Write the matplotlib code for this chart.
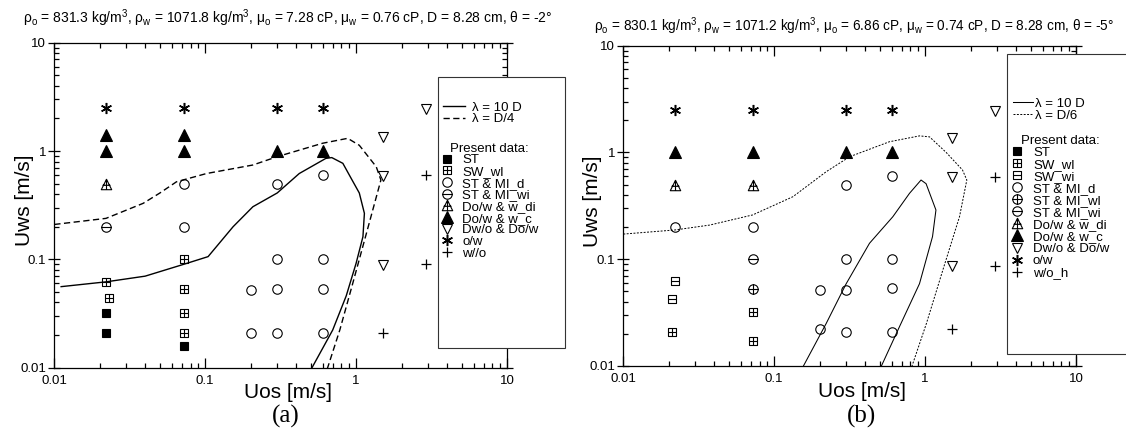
import matplotlib
matplotlib.use('Agg')
import matplotlib.pyplot as plt
from matplotlib.path import Path
from matplotlib.lines import Line2D
from matplotlib.patches import Rectangle
from matplotlib import ticker

plt.rcParams['font.family'] = ['Liberation Sans', 'DejaVu Sans']
plt.rcParams['mathtext.fontset'] = 'custom'
plt.rcParams['mathtext.rm'] = 'Liberation Sans'
plt.rcParams['mathtext.it'] = 'Liberation Sans:italic'

# ---- panel (a) data ----
a_ST_x = [0.022, 0.022, 0.072]
a_ST_y = [0.032, 0.021, 0.016]
a_SWwl_x = [0.022, 0.023, 0.072, 0.072, 0.072, 0.072]
a_SWwl_y = [0.062, 0.044, 0.1, 0.053, 0.032, 0.021]
a_STMId_x = [0.072, 0.3, 0.6, 0.072, 0.3, 0.6, 0.2, 0.3, 0.6, 0.2, 0.3, 0.6]
a_STMId_y = [0.5, 0.5, 0.6, 0.2, 0.1, 0.1, 0.052, 0.053, 0.053, 0.021, 0.021, 0.021]
a_STMIwi_x = [0.022]
a_STMIwi_y = [0.2]
a_Dowwdi_x = [0.022]
a_Dowwdi_y = [0.5]
a_Dowwc_x = [0.022, 0.072, 0.022, 0.072, 0.3, 0.6]
a_Dowwc_y = [1.4, 1.4, 1.0, 1.0, 1.0, 1.0]
a_DwoDow_x = [2.9, 1.5, 1.5, 1.5]
a_DwoDow_y = [2.45, 1.36, 0.59, 0.088]
a_ow_x = [0.022, 0.072, 0.3, 0.6]
a_ow_y = [2.5, 2.5, 2.5, 2.5]
a_wo_x = [2.9, 2.9, 1.5]
a_wo_y = [0.6, 0.09, 0.021]

a_10D_x = [0.0111, 0.022, 0.04, 0.072, 0.1045, 0.153, 0.207, 0.3, 0.42, 0.63, 0.69,
           0.817, 0.927, 1.05, 1.135, 1.11, 1.0, 0.86, 0.70, 0.50]
a_10D_y = [0.056, 0.062, 0.07, 0.09, 0.106, 0.2, 0.306, 0.41, 0.62, 0.855, 0.87,
           0.77, 0.56, 0.41, 0.266, 0.162, 0.092, 0.046, 0.0223, 0.0095]
a_D4_x = [0.01, 0.022, 0.0388, 0.0501, 0.0645, 0.102, 0.207, 0.3, 0.6, 0.88, 1.05,
          1.36, 1.46, 1.22, 0.95, 0.78, 0.64]
a_D4_y = [0.21, 0.239, 0.329, 0.41, 0.52, 0.62, 0.743, 0.887, 1.18, 1.31, 1.13,
          0.716, 0.54, 0.215, 0.06, 0.0223, 0.0095]

# ---- panel (b) data ----
b_SWwl_x = [0.021, 0.072, 0.072]
b_SWwl_y = [0.021, 0.032, 0.017]
b_SWwi_x = [0.022, 0.021]
b_SWwi_y = [0.063, 0.042]
b_STMId_x = [0.022, 0.072, 0.3, 0.6, 0.3, 0.6, 0.2, 0.3, 0.6, 0.2, 0.3, 0.6]
b_STMId_y = [0.2, 0.2, 0.5, 0.6, 0.1, 0.1, 0.052, 0.052, 0.054, 0.022, 0.021, 0.021]
b_STMIwl_x = [0.072]
b_STMIwl_y = [0.053]
b_STMIwi_x = [0.072]
b_STMIwi_y = [0.1]
b_Dowwdi_x = [0.022, 0.072]
b_Dowwdi_y = [0.5, 0.5]
b_Dowwc_x = [0.022, 0.072, 0.3, 0.6]
b_Dowwc_y = [1.0, 1.0, 1.0, 1.0]
b_DwoDow_x = [2.9, 1.5, 1.5, 1.5]
b_DwoDow_y = [2.45, 1.36, 0.59, 0.087]
b_ow_x = [0.022, 0.072, 0.3, 0.6]
b_ow_y = [2.5, 2.5, 2.5, 2.5]
b_woh_x = [2.9, 2.9, 1.5]
b_woh_y = [0.59, 0.087, 0.022]

b_10D_x = [0.155, 0.221, 0.3, 0.428, 0.611, 0.788, 0.94, 1.015, 1.18, 1.12, 0.918, 0.676, 0.51]
b_10D_y = [0.0098, 0.025, 0.059, 0.141, 0.25, 0.414, 0.552, 0.51, 0.289, 0.163, 0.059, 0.0233, 0.0098]
b_D6_x = [0.01, 0.022, 0.0374, 0.072, 0.133, 0.221, 0.316, 0.58, 0.918, 1.07, 1.38,
          1.77, 1.89, 1.69, 1.31, 1.02, 0.815]
b_D6_y = [0.172, 0.188, 0.209, 0.26, 0.385, 0.66, 0.912, 1.26, 1.43, 1.40, 1.0,
          0.685, 0.552, 0.25, 0.079, 0.025, 0.0098]

title_a = (r'ρ$_\mathregular{o}$ = 831.3 kg/m$^\mathregular{3}$, ρ$_\mathregular{w}$ = 1071.8 kg/m$^\mathregular{3}$, '
           r'μ$_\mathregular{o}$ = 7.28 cP, μ$_\mathregular{w}$ = 0.76 cP, D = 8.28 cm, θ = -2°')
title_b = (r'ρ$_\mathregular{o}$ = 830.1 kg/m$^\mathregular{3}$, ρ$_\mathregular{w}$ = 1071.2 kg/m$^\mathregular{3}$, '
           r'μ$_\mathregular{o}$ = 6.86 cP, μ$_\mathregular{w}$ = 0.74 cP, D = 8.28 cm, θ = -5°')

# ---- marker shapes ----
def compound(*parts):
    return Path.make_compound_path(*parts)

sq = Path([(-1, -1), (1, -1), (1, 1), (-1, 1), (-1, -1)],
          [Path.MOVETO, Path.LINETO, Path.LINETO, Path.LINETO, Path.CLOSEPOLY])
tri = Path([(0, 1), (-1, -1), (1, -1), (0, 1)],
           [Path.MOVETO, Path.LINETO, Path.LINETO, Path.CLOSEPOLY])
circ = Path.unit_circle()
hl = Path([(-1, 0), (1, 0)])
vl = Path([(0, -1), (0, 1)])
tri_h = Path([(-0.75, -0.15), (0.75, -0.15)])

m_sq_plus = compound(sq, hl, vl)
m_sq_minus = compound(sq, hl)
m_c_plus = compound(circ, hl, vl)
m_c_minus = compound(circ, hl)
m_tri_plus = compound(tri, vl, tri_h)

open_kw = dict(mfc='none', mec='k', mew=0.8)
STYLE = {
    'ST': dict(marker='s', ms=6, mfc='k', mec='k', mew=0.8),
    'SW_wl': dict(marker=m_sq_plus, ms=6, **open_kw),
    'SW_wi': dict(marker=m_sq_minus, ms=6, **open_kw),
    'ST & MI_d': dict(marker='o', ms=6.8, **open_kw),
    'ST & MI_wl': dict(marker=m_c_plus, ms=6.8, **open_kw),
    'ST & MI_wi': dict(marker=m_c_minus, ms=6.8, **open_kw),
    'Do/w & w_di': dict(marker=m_tri_plus, ms=7.5, **open_kw),
    'Do/w & w_c': dict(marker='^', ms=8.2, mfc='k', mec='k', mew=0.8),
    'Dw/o & Do/w': dict(marker='v', ms=7.5, **open_kw),
    'o/w': dict(marker=(6, 2, 0), ms=8, mec='k', mew=1.1),
    'w//o': dict(marker='+', ms=7, mec='k', mew=0.9),
}
STYLE['w/o_h'] = STYLE['w//o']

series_a = [('ST', a_ST_x, a_ST_y), ('SW_wl', a_SWwl_x, a_SWwl_y),
            ('ST & MI_d', a_STMId_x, a_STMId_y), ('ST & MI_wi', a_STMIwi_x, a_STMIwi_y),
            ('Do/w & w_di', a_Dowwdi_x, a_Dowwdi_y), ('Do/w & w_c', a_Dowwc_x, a_Dowwc_y),
            ('Dw/o & Do/w', a_DwoDow_x, a_DwoDow_y), ('o/w', a_ow_x, a_ow_y),
            ('w//o', a_wo_x, a_wo_y)]
series_b = [('ST', [], []), ('SW_wl', b_SWwl_x, b_SWwl_y), ('SW_wi', b_SWwi_x, b_SWwi_y),
            ('ST & MI_d', b_STMId_x, b_STMId_y), ('ST & MI_wl', b_STMIwl_x, b_STMIwl_y),
            ('ST & MI_wi', b_STMIwi_x, b_STMIwi_y), ('Do/w & w_di', b_Dowwdi_x, b_Dowwdi_y),
            ('Do/w & w_c', b_Dowwc_x, b_Dowwc_y), ('Dw/o & Do/w', b_DwoDow_x, b_DwoDow_y),
            ('o/w', b_ow_x, b_ow_y), ('w/o_h', b_woh_x, b_woh_y)]

W, H = 1126, 436
fig = plt.figure(figsize=(W / 100, H / 100), dpi=100)


def px_box(l, t, r, b):
    return [l / W, 1 - b / H, (r - l) / W, (b - t) / H]


ax_a = fig.add_axes(px_box(54.3, 42.7, 507, 367.7))
ax_b = fig.add_axes(px_box(623.3, 45.7, 1076, 366))


def style_axes(ax):
    ax.set_xscale('log')
    ax.set_yscale('log')
    ax.set_xlim(0.01, 10)
    ax.set_ylim(0.01, 10)
    fmt = ticker.FuncFormatter(lambda v, _: f'{v:g}')
    ax.xaxis.set_major_formatter(fmt)
    ax.yaxis.set_major_formatter(fmt)
    ax.xaxis.set_minor_formatter(ticker.NullFormatter())
    ax.yaxis.set_minor_formatter(ticker.NullFormatter())
    for s in ax.spines.values():
        s.set_linewidth(0.9)
    ax.tick_params(which='both', top=True, right=True, width=0.9, labelsize=9.5)
    ax.tick_params(axis='x', which='major', direction='in', length=7, pad=5)
    ax.tick_params(axis='x', which='minor', direction='in', length=3.5)
    ax.tick_params(axis='y', which='major', direction='inout', length=8, pad=2)
    ax.tick_params(axis='y', which='minor', direction='in', length=3.5)


for ax in (ax_a, ax_b):
    style_axes(ax)

ax_a.plot(a_10D_x, a_10D_y, color='k', lw=1.0, zorder=2)
ax_a.plot(a_D4_x, a_D4_y, color='k', lw=1.0, ls=(0, (4.5, 2.5)), zorder=2)
ax_b.plot(b_10D_x, b_10D_y, color='k', lw=0.75, zorder=2)
ax_b.plot(b_D6_x, b_D6_y, color='k', lw=0.7, ls=(0, (2, 1.5)), zorder=2)

for ax, series in ((ax_a, series_a), (ax_b, series_b)):
    for name, xs, ys in series:
        ax.plot(xs, ys, ls='none', zorder=3, **STYLE[name])
    ax.set_xlabel('Uos [m/s]', fontsize=15)
    ax.set_ylabel('Uws [m/s]', fontsize=15)
    ax.xaxis.label.set_va('center')
    ax.yaxis.label.set_va('center')

ax_a.xaxis.set_label_coords(0.516, -0.075)
ax_a.yaxis.set_label_coords(-0.065, 0.516)
ax_b.xaxis.set_label_coords(0.527, -0.081)
ax_b.yaxis.set_label_coords(-0.067, 0.513)

# titles, fitted to measured width
renderer = fig.canvas.get_renderer()
for s, x0, yc, target in ((title_a, 23, 18, 531), (title_b, 594, 26, 520)):
    t = fig.text(x0 / W, 1 - yc / H, s, fontsize=9, ha='left', va='center')
    w = t.get_window_extent(renderer=renderer).width
    t.set_fontsize(9 * target / w)

fig.text(286 / W, 1 - 416 / H, '(a)', family='Liberation Serif', fontsize=18, ha='center', va='center')
fig.text(862 / W, 1 - 416 / H, '(b)', family='Liberation Serif', fontsize=18, ha='center', va='center')

# legend boxes
for l, t, r, b in ((438, 77, 565, 348), (1007, 54, 1140, 354)):
    fig.patches.append(Rectangle((l / W, 1 - b / H), (r - l) / W, (b - t) / H,
                                 transform=fig.transFigure, facecolor='white',
                                 edgecolor='#333333', lw=0.8, zorder=1))

FS = 9.5


def add_legends(line_labels, line_styles, series, lx, ly, hlen, hpad, mx, my, mpad, spacing):
    lh = [Line2D([], [], color='k', lw=lw, ls=ls, label=lab)
          for lab, (lw, ls) in zip(line_labels, line_styles)]
    fig.legend(handles=lh, loc='upper left', bbox_to_anchor=(lx / W, 1 - ly / H),
               frameon=False, fontsize=FS, handlelength=hlen, handletextpad=hpad,
               labelspacing=spacing, borderpad=0, borderaxespad=0)
    mh = [Line2D([], [], ls='none', label=name, **STYLE[name]) for name, _, _ in series]
    fig.legend(handles=mh, loc='upper left', bbox_to_anchor=(mx / W, 1 - my / H),
               frameon=False, fontsize=FS, title='Present data:', title_fontsize=FS,
               handlelength=1.0, handletextpad=mpad, labelspacing=spacing,
               borderpad=0, borderaxespad=0)


add_legends(['λ = 10 D', 'λ = D/4'], [(1.0, '-'), (1.0, (0, (4.5, 2.5)))], series_a,
            443, 101.5, 1.7, 0.5, 440.4, 142.8, 0.64, -0.045)
add_legends(['λ = 10 D', 'λ = D/6'], [(0.75, '-'), (0.7, (0, (2, 1.5)))], series_b,
            1013, 97.8, 1.5, 0.2, 1010.4, 134.8, 0.71, -0.015)

fig.savefig('out.png', dpi=100)
